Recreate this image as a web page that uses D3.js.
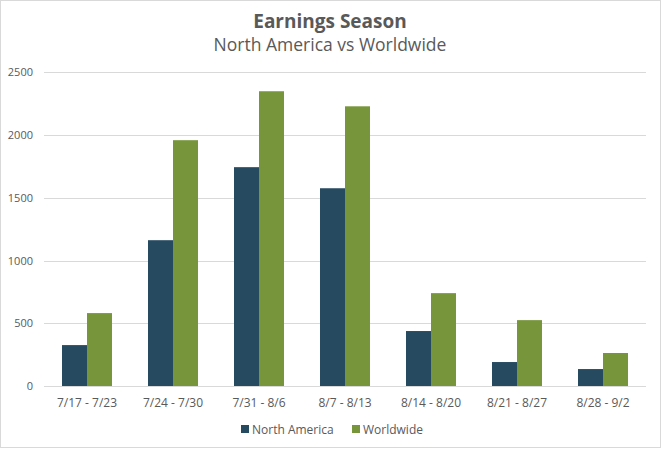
<!DOCTYPE html>
<html><head><meta charset="utf-8">
<script src="https://cdn.jsdelivr.net/npm/d3@7"></script>
<style>
html,body{margin:0;padding:0;background:#fff;}
svg{display:block;font-family:"Open Sans","Noto Sans",sans-serif;}
</style></head>
<body>
<script>
const categories = ["7/17 - 7/23","7/24 - 7/30","7/31 - 8/6","8/7 - 8/13","8/14 - 8/20","8/21 - 8/27","8/28 - 9/2"];
const northAmerica = [326, 1162, 1744, 1576, 438, 191, 135];
const worldwide = [581, 1959, 2349, 2229, 740, 525, 263];
const seriesNames = ["North America","Worldwide"];
const yTicks = [0, 500, 1000, 1500, 2000, 2500];
const colors = ["#264a60", "#77963b"];

const W = 661, H = 450;
const svg = d3.select("body").append("svg").attr("width", W).attr("height", H);
svg.append("rect").attr("x",0.5).attr("y",0.5).attr("width",W-1).attr("height",H-3)
  .attr("fill","#fff").attr("stroke","#d9d9d9");

const x0 = d3.scaleBand().domain(categories).range([44, 646]).paddingInner(0).paddingOuter(0);
const x1 = d3.scaleBand().domain(seriesNames).range([0, x0.bandwidth()]).paddingInner(0).paddingOuter(0.72);
const y = d3.scaleLinear().domain([0, 2500]).range([386, 72.3]);

// gridlines
svg.append("g").selectAll("line").data(yTicks).join("line")
  .attr("x1", 44).attr("x2", 646)
  .attr("y1", d => Math.round(y(d)) + 0.5).attr("y2", d => Math.round(y(d)) + 0.5)
  .attr("stroke", "#d9d9d9").attr("stroke-width", 1);

// y axis labels
const yAxis = d3.axisLeft(y).tickValues(yTicks).tickFormat(d3.format("d")).tickSize(0).tickPadding(0);
const gy = svg.append("g").attr("transform","translate(33,0)").call(yAxis);
gy.select(".domain").remove();
gy.selectAll("text").attr("fill","#595959").style("font-size","11px").style("font-family","'Open Sans','Noto Sans',sans-serif");

// bars
const data = categories.map((c,i) => ({c, vals:[northAmerica[i], worldwide[i]]}));
const groups = svg.append("g").selectAll("g").data(data).join("g")
  .attr("transform", d => `translate(${x0(d.c)},0)`);
groups.selectAll("rect").data(d => d.vals.map((v,j) => ({s: seriesNames[j], v, j})))
  .join("rect")
  .attr("x", d => x1(d.s)).attr("width", x1.bandwidth())
  .attr("y", d => y(d.v)).attr("height", d => y(0) - y(d.v))
  .attr("fill", d => colors[d.j]);

// x axis
const xAxis = d3.axisBottom(x0).tickSize(0).tickPadding(0);
const gx = svg.append("g").attr("transform","translate(0,398)").call(xAxis);
gx.select(".domain").remove();
gx.selectAll("text").attr("fill","#595959").style("font-size","12px").style("font-family","'Open Sans','Noto Sans',sans-serif");

// title
svg.append("text").attr("x", 330).attr("y", 28).attr("text-anchor","middle")
  .attr("fill","#595959").style("font-size","19px").style("font-weight","bold")
  .text("Earnings Season");
svg.append("text").attr("x", 330).attr("y", 51).attr("text-anchor","middle")
  .attr("fill","#595959").style("font-size","17.5px")
  .text("North America vs Worldwide");

// legend
const legendX = [241, 352];
const lg = svg.append("g").selectAll("g").data(seriesNames).join("g")
  .attr("transform", (d,i) => `translate(${legendX[i]},425)`);
lg.append("rect").attr("width",8).attr("height",8).attr("fill",(d,i)=>colors[i]);
lg.append("text").attr("x",11).attr("y",8.5).attr("fill","#595959")
  .style("font-size","12px").text(d=>d);
</script>
</body></html>
